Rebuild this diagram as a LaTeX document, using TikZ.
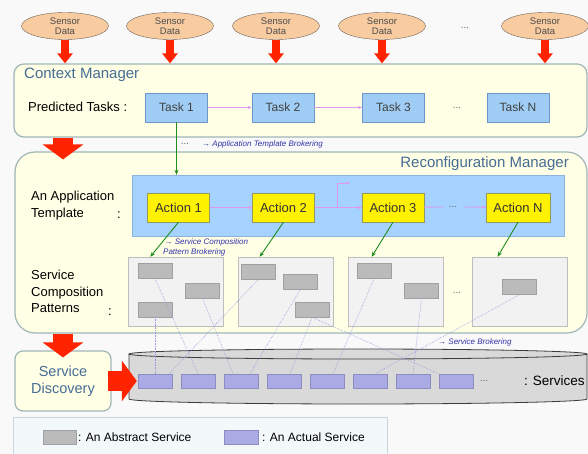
\documentclass[tikz,border=0pt]{standalone}
\usepackage{fontspec}
\setmainfont{Liberation Sans}
\usetikzlibrary{calc,arrows.meta,shapes.geometric,positioning}
\definecolor{bgfill}{RGB}{249,249,249}
\definecolor{sensorfill}{RGB}{248,203,160}
\definecolor{sensorline}{RGB}{110,100,90}
\definecolor{arrowred}{RGB}{255,35,0}
\definecolor{mgrfill}{RGB}{255,255,230}
\definecolor{mgrline}{RGB}{160,182,182}
\definecolor{titleblue}{RGB}{70,108,148}
\definecolor{taskfill}{RGB}{160,205,245}
\definecolor{taskline}{RGB}{110,150,200}
\definecolor{tmplfill}{RGB}{166,210,255}
\definecolor{tmplline}{RGB}{140,180,220}
\definecolor{actionline}{RGB}{150,150,100}
\definecolor{flowpink}{RGB}{222,150,240}
\definecolor{brokergreen}{RGB}{30,140,30}
\definecolor{patfill}{RGB}{242,242,242}
\definecolor{patline}{RGB}{190,190,190}
\definecolor{absfill}{RGB}{187,187,187}
\definecolor{absline}{RGB}{160,160,160}
\definecolor{actfill}{RGB}{170,170,228}
\definecolor{actline}{RGB}{140,140,190}
\definecolor{linkblue}{RGB}{150,150,225}
\definecolor{noteblue}{RGB}{50,50,170}
\definecolor{cylfill}{RGB}{217,217,217}
\definecolor{cylline}{RGB}{60,60,60}
\definecolor{legendfill}{RGB}{243,249,250}
\definecolor{legendline}{RGB}{200,215,220}

\begin{document}
\begin{tikzpicture}[x=1pt,y=-1pt,
    sensor/.style={ellipse, draw=sensorline, fill=sensorfill, minimum width=87pt,
                   minimum height=27pt, inner sep=0pt, align=center,
                   font=\fontsize{9.5}{10.5}\selectfont, text=black!70},
    manager/.style={rectangle, rounded corners=10pt, draw=mgrline, fill=mgrfill, line width=1.2pt},
    title/.style={text=titleblue, font=\fontsize{15}{17}\selectfont, inner sep=0pt},
    rowtext/.style={anchor=west, align=left, font=\fontsize{13}{16.5}\selectfont, inner sep=0pt},
    task/.style={rectangle, draw=taskline, fill=taskfill, minimum width=62pt, minimum height=29pt,
                 inner sep=0pt, font=\fontsize{12}{14}\selectfont, text=black!75},
    action/.style={rectangle, draw=actionline, fill=yellow, minimum width=62pt, minimum height=29pt,
                   inner sep=0pt, font=\fontsize{13}{15}\selectfont, text=black!80},
    pattern/.style={rectangle, draw=patline, fill=patfill, minimum width=95pt, minimum height=69pt},
    abstract/.style={rectangle, draw=absline, fill=absfill, minimum width=34pt, minimum height=15pt, inner sep=0pt},
    actual/.style={rectangle, draw=actline, fill=actfill, minimum width=34pt, minimum height=14pt, inner sep=0pt},
    note/.style={anchor=west, align=left, text=noteblue, font=\fontsize{8}{10}\itshape, inner sep=0pt},
    dots/.style={font=\fontsize{10}{10}\selectfont, text=black!60, inner sep=0pt},
    redarrow/.style={-{Triangle[width=15pt,length=10pt]}, line width=8pt, draw=arrowred},
    bigarrow/.style={-{Triangle[width=40pt,length=15pt]}, line width=20pt, draw=arrowred},
    flow/.style={-{Stealth[length=4pt,width=3pt]}, draw=flowpink, line width=0.8pt},
    broker/.style={-{Stealth[length=5pt,width=4pt]}, draw=brokergreen, line width=0.9pt},
    link/.style={draw=linkblue, densely dotted, line width=0.6pt}
  ]
    \fill[bgfill] (0,0) rectangle (588,454);
    \useasboundingbox (0,0) rectangle (588,454);

    \node[sensor] (s1) at (65,26)  {Sensor\\Data};
    \node[sensor] (s2) at (170,26) {Sensor\\Data};
    \node[sensor] (s3) at (276,26) {Sensor\\Data};
    \node[sensor] (s4) at (382,26) {Sensor\\Data};
    \node[dots]        at (465,28) {...};
    \node[sensor] (s5) at (545,26) {Sensor\\Data};

    \node[manager, minimum width=573pt, minimum height=73pt] (cm) at (300.5,100.5) {};
    \node[manager, rounded corners=20pt, minimum width=572pt, minimum height=181pt] (rm) at (301,242.5) {};
    \node[manager, rounded corners=8pt, minimum width=96pt, minimum height=60pt, align=center,
          text=titleblue, font=\fontsize{14.5}{17}\selectfont] (sd) at (63,381) {Service\\Discovery};
    \draw[legendline, fill=legendfill, line width=0.8pt] (13,417) rectangle (387,470);

    \draw[redarrow] (s1.south) -- (s1 |- cm.north);
    \draw[redarrow] (s2.south) -- (s2 |- cm.north);
    \draw[redarrow] (s3.south) -- (s3 |- cm.north);
    \draw[redarrow] (s4.south) -- (s4 |- cm.north);
    \draw[redarrow] (s5.south) -- (s5 |- cm.north);

    \node[title, anchor=west] (cmtitle) at (24,75) {Context Manager};
    \node[rowtext] (predicted) at (28,107) {Predicted Tasks :};
    \node[task] (t1) at (176.5,107.5) {Task 1};
    \node[task] (t2) at (283,107.5)   {Task 2};
    \node[task] (t3) at (393.5,107.5) {Task 3};
    \node[dots]      at (457,108)     {...};
    \node[task] (tn) at (518,107.5)   {Task N};
    \draw[flow] (t1) -- (t2);
    \draw[flow] (t2) -- (t3);

    \node[title, anchor=east] (rmtitle) at (569,164) {Reconfiguration Manager};
    \node[rectangle, draw=tmplline, fill=tmplfill, minimum width=432pt, minimum height=61pt] (tmpl) at (348,205.5) {};
    \node[rowtext, anchor=north west] (apptext) at (31,191) {An Application\\Template};
    \node[rowtext] at (117,215) {:};
    \node[action] (a1) at (178.5,207.5) {Action 1};
    \node[action] (a2) at (283.5,207.5) {Action 2};
    \node[action] (a3) at (393,207.5)   {Action 3};
    \node[dots] (adots) at (453,207)    {...};
    \node[action, minimum width=64pt] (an) at (518,207.5) {Action N};
    \coordinate (branch) at (350,183);
    \draw[flow] (a1) -- (a2);
    \draw[flow] (a2) -- (a3);
    \draw[flow] ($(a2.east)!.48!(a3.west)$) |- (branch);
    \draw[flow, -] (a3) -- ([xshift=-5pt]adots.west);
    \draw[flow] ([xshift=6pt]adots.east) -- (an);

    \draw[broker] (t1.south) -- (t1.south |- tmpl.north);
    \node[dots] at (185,144) {...};
    \node[note] (tmplnote) at (202,144) {→ Application Template Brokering};

    \node[rowtext, anchor=north west] (comptext) at (31,270) {Service\\Composition\\Patterns};
    \node[rowtext] at (108,312) {:};
    \node[pattern] (p1) at (176,291.5)   {};
    \node[pattern] (p2) at (285.5,291.5) {};
    \node[pattern] (p3) at (395.5,291.5) {};
    \node[dots]         at (457,293)     {...};
    \node[pattern] (p4) at (519.5,291.5) {};
    \draw[broker] (a1.south) -- ($(p1.north west)!.23!(p1.north east)$);
    \draw[broker] (a2.south) -- ($(p2.north west)!.23!(p2.north east)$);
    \draw[broker] (a3.south) -- ($(p3.north west)!.25!(p3.north east)$);
    \draw[broker] (an.south) -- ($(p4.north west)!.27!(p4.north east)$);
    \node[note] (compnote) at (163,247) {\,→ Service Composition\\Pattern Brokering};

    \node[abstract] (b11) at (155,271)     {};
    \node[abstract] (b12) at (202.5,290.5) {};
    \node[abstract] (b13) at (155,309.5)   {};
    \node[abstract] (b21) at (258.5,271.5) {};
    \node[abstract] (b22) at (300.5,281.5) {};
    \node[abstract] (b23) at (312,309.5)   {};
    \node[abstract] (b31) at (374,271)     {};
    \node[abstract] (b32) at (421.5,290.5) {};
    \node[abstract] (b41) at (519.5,287)   {};

    \fill[cylfill] (129,354) -- (129,399) arc[start angle=180, end angle=360, x radius=229pt, y radius=5pt]
        -- (587,354) arc[start angle=0, end angle=180, x radius=229pt, y radius=5pt] -- cycle;
    \draw[cylline, line width=0.8pt] (129,354) -- (129,399) arc[start angle=180, end angle=360, x radius=229pt, y radius=5pt]
        -- (587,354);
    \draw[cylline, line width=0.8pt] (358,354) ellipse[x radius=229pt, y radius=5pt];

    \node[actual] (v1) at (155,381) {};
    \node[actual] (v2) at (198,381) {};
    \node[actual] (v3) at (241,381) {};
    \node[actual] (v4) at (284,381) {};
    \node[actual] (v5) at (327,381) {};
    \node[actual] (v6) at (370,381) {};
    \node[actual] (v7) at (413,381) {};
    \node[actual] (v8) at (456,381) {};
    \node[dots]        at (484,381) {...};
    \node[rowtext, font=\fontsize{13.5}{16}\selectfont] (services) at (524,381) {: Services};
    \node[note] (servnote) at (438,342) {→ Service Brokering};

    \draw[link] (b13.south) -- (v1.north);
    \draw[link] (b11.south) -- (v2.north);
    \draw[link] (b12.south) -- ([xshift=-8pt]v3.north);
    \draw[link] (b21.south) -- ([xshift=14pt]v1.north);
    \draw[link] (b22.south) -- ([xshift=9pt]v3.north);
    \draw[link] (b23.south) -- ([xshift=6pt]v4.north);
    \draw[link] (b23.south) -- (v8.north west);
    \draw[link] (b31.south) -- ([xshift=6pt]v5.north);
    \draw[link] (b32.south) -- (v7.north);
    \draw[link] (b41.south) -- ([xshift=5pt]v6.north);

    \draw[bigarrow] (cm.south -| sd) -- ([yshift=-8pt]rm.north -| sd);
    \draw[bigarrow] (rm.south -| sd) -- ([yshift=-7pt]sd.north);
    \draw[bigarrow] ([xshift=-4pt]sd.east) -- ([xshift=-1pt]v1.west);

    \node[abstract, minimum width=33pt, minimum height=14pt] (legabs) at (59.5,437) {};
    \node[rowtext, font=\fontsize{12}{14}\selectfont] at (78,437) {: An Abstract Service};
    \node[actual] (legact) at (241,437) {};
    \node[rowtext, font=\fontsize{12}{14}\selectfont] at (262,437) {: An Actual Service};
  \end{tikzpicture}
\end{document}
